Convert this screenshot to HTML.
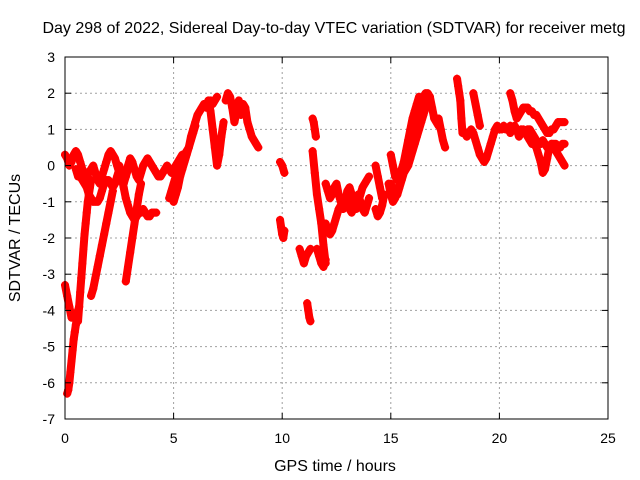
<!DOCTYPE html>
<html><head><meta charset="utf-8"><style>
body{margin:0;background:#fff;}
svg{display:block;font-family:"Liberation Sans",sans-serif;}
</style></head><body>
<svg id="chart" width="640" height="480">
<rect width="640" height="480" fill="#fff"/>
<text x="334" y="33" font-size="16" text-anchor="middle">Day 298 of 2022, Sidereal Day-to-day VTEC variation (SDTVAR) for receiver metg</text>
<text x="335" y="471" font-size="16" text-anchor="middle">GPS time / hours</text>
<text transform="translate(20,238) rotate(-90)" font-size="16" text-anchor="middle">SDTVAR / TECUs</text>
<g id="grid"></g><g id="marks"></g><g id="axes"></g>
</svg>
<script>
const xTicks=[0,5,10,15,20,25];
const yTicks=[-7,-6,-5,-4,-3,-2,-1,0,1,2,3];
// tracks: start time, step, values
const tA1=[0,0.1],vA1=[0.3,0.2,0.0,0.1,0.3,0.4,0.3,0.1,-0.1,-0.2,-0.3,-0.2,-0.1,0.0,-0.2,-0.4,-0.5,-0.3,-0.1,0.1,0.3,0.4,0.3,0.2,0.0,-0.2,-0.4,-0.5,-0.3,-0.1,0.1];
const tA2=[0.5,0.1],vA2=[-0.1,-0.3,-0.3,-0.4,-0.5,-0.6,-0.8,-0.9,-1.0,-1.0,-1.0,-0.9,-0.7,-0.5,-0.4,-0.4,-0.5,-0.6,-0.5,-0.3,-0.1,-0.3,-0.6,-0.9,-1.1,-1.3,-1.4,-1.5,-1.4,-1.3,-1.3,-1.2,-1.3,-1.4,-1.4,-1.3,-1.3,-1.3];
const tA3=[2.5,0.1],vA3=[0.0,-0.2,-0.4,-0.3,0.0,0.2,0.1,-0.1,-0.3,-0.4,-0.2,0.0,0.1,0.2,0.1,0.0,-0.1,-0.2,-0.3,-0.3,-0.2,-0.1,0.0,-0.1,-0.2,-0.1,0.0,0.1,0.2,0.3,0.2];
const tR1=[4.8,0.1],vR1=[-0.9,-0.7,-0.5,-0.3,-0.1,0.1,0.2,0.3,0.4,0.5,0.8,1.0,1.2,1.4,1.5,1.6,1.7,1.6,1.7,1.8,1.7,1.8,1.9];
const tR2=[5.0,0.1],vR2=[-1.0,-0.8,-0.6,-0.3,-0.1,0.1,0.3,0.5,0.7,0.9,1.1];
const tS1=[6.6,0.1],vS1=[1.8,1.5,1.0,0.5,0.0,0.3,0.8,1.2];
const tS2=[7.4,0.1],vS2=[1.8,2.0,1.9,1.6,1.2,1.5,1.8,1.4];
const tS3=[8.2,0.1],vS3=[1.7,1.6,1.2,1.0,0.8,0.7,0.6,0.5];
const tD1=[0.0,0.1],vD1=[-3.3,-3.6,-3.9,-4.2];
const tD2=[0.1,0.05],vD2=[-6.3,-6.2,-6.0,-5.7,-5.4,-5.1,-4.8,-4.6,-4.4,-4.2,-4.0,-3.9];
const tD3=[0.6,0.05],vD3=[-4.3,-3.9,-3.5,-3.1,-2.7,-2.3,-1.9,-1.6,-1.3,-1.0,-0.8,-0.6,-0.4];
const tD4=[1.2,0.1],vD4=[-3.6,-3.4,-3.1,-2.8,-2.5,-2.2,-1.9,-1.6,-1.3,-1.0,-0.7];
const tD5=[2.8,0.1],vD5=[-3.2,-2.8,-2.4,-2.0,-1.6,-1.2,-0.8,-0.5];
const tB1=[9.9,0.1],vB1=[0.1,0.0,-0.2];
const tB2=[9.9,0.05],vB2=[-1.5,-1.7,-1.9,-2.0,-1.8];
const tB3=[10.8,0.1],vB3=[-2.3,-2.5,-2.7,-2.5,-2.4,-2.3];
const tB4=[11.15,0.05],vB4=[-3.8,-4.0,-4.2,-4.3];
const tB5=[11.4,0.05],vB5=[1.3,1.2,1.0,0.8];
const tB6=[11.4,0.1],vB6=[0.4,-0.2,-0.8,-1.2,-1.6,-2.2,-2.7];
const tB7=[11.6,0.1],vB7=[-2.3,-2.5,-2.7,-2.8,-2.6];
const tC1=[12.0,0.1],vC1=[-0.5,-0.7,-0.9,-0.8,-0.6,-0.5,-0.8,-1.0,-1.2,-1.0,-0.7,-0.6,-0.8,-1.0,-1.2,-1.0,-0.8,-0.6,-0.5,-0.4,-0.3];
const tC2=[12.0,0.1],vC2=[-1.6,-1.8,-1.9,-1.8,-1.6,-1.4,-1.2,-1.1,-1.0,-0.9,-1.0,-1.2,-1.3,-1.1,-0.9,-0.8,-1.0,-1.2,-1.3,-1.1,-0.9];
const tC3=[14.3,0.1],vC3=[0.0,-0.3,-0.6,-0.9];
const tC4=[14.3,0.1],vC4=[-1.2,-1.4,-1.3,-1.1,-0.8];
const tE1=[14.9,0.1],vE1=[-0.5,-0.8,-1.0,-0.9,-0.7,-0.5,-0.3,-0.1,0.1,0.3,0.6,0.9,1.2,1.4,1.6,1.8,1.9,2.0,2.0,1.9,1.6,1.3,1.2,1.1];
const tE2=[15.0,0.1],vE2=[-0.5,-0.7,-0.8,-0.8,-0.6,-0.4,-0.2,-0.1,0.0,0.2,0.4,0.6,0.8,1.0,1.2,1.4,1.6,1.8,1.9];
const tE3=[15.0,0.1],vE3=[0.3,0.0,-0.3,-0.4,-0.3,-0.1,0.1,0.4,0.7,1.0,1.3,1.5,1.7,1.9];
const tE4=[17.2,0.1],vE4=[1.3,1.0,0.7,0.5];
const tF1=[18.05,0.05],vF1=[2.4,2.2,2.0,1.8,1.3,0.9];
const tF2=[18.3,0.1],vF2=[1.0,0.9,0.8,0.9,1.0,0.9,0.7,0.5,0.3,0.2,0.1,0.2,0.4,0.6,0.8,1.0,1.1,1.0,1.0,1.1,1.0,1.0,1.1];
const tF3=[18.8,0.1],vF3=[2.0,1.7,1.4,1.1];
const tG1=[20.5,0.1],vG1=[2.0,1.8,1.5,1.3,1.4,1.5,1.6,1.6,1.6,1.5,1.5,1.4,1.4,1.3,1.2,1.1,1.0,0.9,0.9,1.0,1.0,1.1,1.2,1.2,1.2,1.2];
const tG2=[20.5,0.1],vG2=[0.9,1.0,1.1,1.0,0.8,0.9,1.0,0.9,0.8,0.7,0.6,0.6,0.5,0.3,0.1,-0.2,-0.1,0.2,0.5,0.6,0.5,0.4,0.3,0.2,0.1,0.0];
const tG3=[21.0,0.1],vG3=[1.0,0.9,0.9,1.0,1.0,0.9,0.8,0.7,0.6,0.6,0.7,0.6,0.5,0.5,0.6,0.6,0.6,0.5,0.5,0.6,0.6];

const tracks=[[tA1,vA1],[tA2,vA2],[tA3,vA3],[tR1,vR1],[tR2,vR2],[tS1,vS1],[tS2,vS2],[tS3,vS3],[tD1,vD1],[tD2,vD2],[tD3,vD3],[tD4,vD4],[tD5,vD5],[tB1,vB1],[tB2,vB2],[tB3,vB3],[tB4,vB4],[tB5,vB5],[tB6,vB6],[tB7,vB7],[tC1,vC1],[tC2,vC2],[tC3,vC3],[tC4,vC4],[tE1,vE1],[tE2,vE2],[tE3,vE3],[tE4,vE4],[tF1,vF1],[tF2,vF2],[tF3,vF3],[tG1,vG1],[tG2,vG2],[tG3,vG3]];

const L=65,R=608,T=57,B=419;
const xs=t=>L+(t-0)/25*(R-L);
const ys=v=>B-(v+7)/10*(B-T);
const NS='http://www.w3.org/2000/svg';
const grid=document.getElementById('grid'),marks=document.getElementById('marks'),axes=document.getElementById('axes');
function mk(tag,attrs,parent){const e=document.createElementNS(NS,tag);for(const k in attrs)e.setAttribute(k,attrs[k]);parent.appendChild(e);return e;}
xTicks.forEach(t=>{
 if(t>0&&t<25){const g=mk('line',{x1:xs(t),x2:xs(t),y1:T,y2:B,stroke:'#a0a0a0','stroke-dasharray':'2,3'},grid);
 
 }
 const lb=mk('text',{x:xs(t),y:B+24,'font-size':14,'text-anchor':'middle'},axes);lb.textContent=t;
 
 
 mk('line',{x1:xs(t),x2:xs(t),y1:B,y2:B-6,stroke:'#000'},axes);
 mk('line',{x1:xs(t),x2:xs(t),y1:T,y2:T+6,stroke:'#000'},axes);
});
yTicks.forEach(v=>{
 if(v>-7&&v<3){const g=mk('line',{x1:L,x2:R,y1:ys(v),y2:ys(v),stroke:'#a0a0a0','stroke-dasharray':'2,3'},grid);
 
 }
 const lb=mk('text',{x:L-10,y:ys(v)+5,'font-size':14,'text-anchor':'end'},axes);lb.textContent=v;
 
 
 mk('line',{x1:L,x2:L+6,y1:ys(v),y2:ys(v),stroke:'#000'},axes);
 mk('line',{x1:R,x2:R-6,y1:ys(v),y2:ys(v),stroke:'#000'},axes);
});
const frame=mk('rect',{x:L,y:T,width:R-L,height:B-T,fill:'none',stroke:'#000'},axes);


tracks.forEach(([tt,vv])=>{
 let d='',band='';
 vv.forEach((v,i)=>{const x=xs(tt[0]+i*tt[1]),y=ys(v);d+=`M${x-4},${y}h8M${x},${y-4}v8`;band+=(i?'L':'M')+x+','+y;});
 const b=mk('path',{d:band,stroke:'#f00','stroke-width':8,fill:'none','stroke-linejoin':'round','stroke-linecap':'round'},marks);
 
 
 const p=mk('path',{d:d,stroke:'#f00','stroke-width':2,fill:'none'},marks);
 
 
});
</script>
</body></html>
